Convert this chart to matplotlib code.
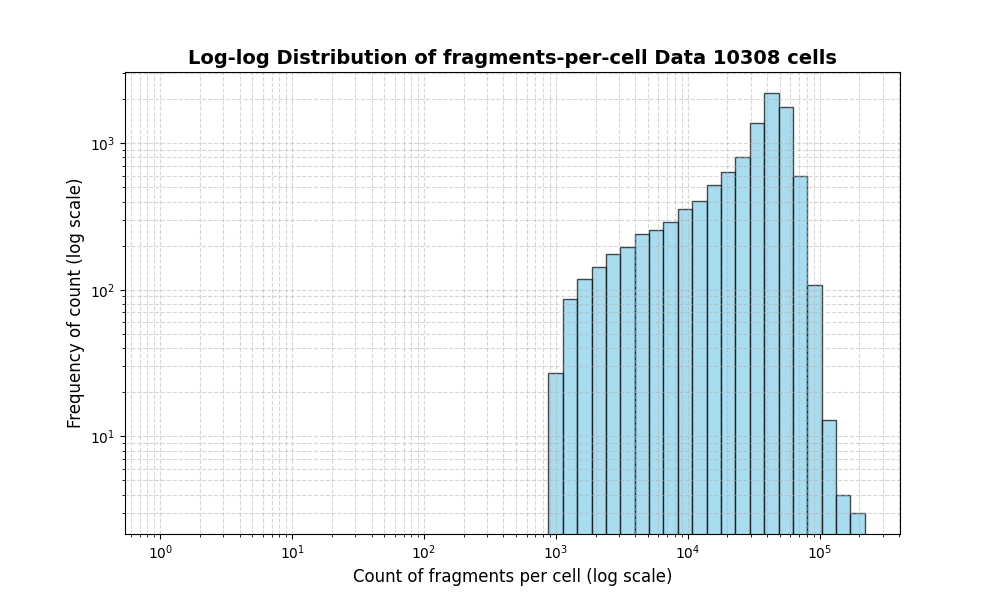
import numpy as np
import matplotlib
matplotlib.use("Agg")
import matplotlib.pyplot as plt

# histogram: 50 log-spaced edges from 1 to the largest count per cell
n_cells = 10308
max_count = 2.2e5
n_edges = 50
# counts per bin (first 27 bins are empty)
empty_bins = 27
counts_nonzero = [27, 86, 118, 144, 175, 195, 239, 255, 289, 354, 406, 517,
                  634, 805, 1375, 2200, 1765, 597, 107, 13, 4, 3]

edges = np.logspace(0, np.log10(max_count), n_edges)
counts = np.array([0] * empty_bins + counts_nonzero, dtype=float)
centers = np.sqrt(edges[:-1] * edges[1:])

fig, ax = plt.subplots(figsize=(10, 6), dpi=100)
ax.hist(centers, bins=edges, weights=counts, color="skyblue",
        edgecolor="black", alpha=0.7)
ax.set_xscale("log")
ax.set_yscale("log")
ax.set_title(f"Log-log Distribution of fragments-per-cell Data {n_cells} cells",
             fontsize=14, fontweight="bold")
ax.set_xlabel("Count of fragments per cell (log scale)", fontsize=12)
ax.set_ylabel("Frequency of count (log scale)", fontsize=12)
ax.grid(True, which="both", linestyle="--", alpha=0.5)

fig.savefig("out.png", dpi=100)
